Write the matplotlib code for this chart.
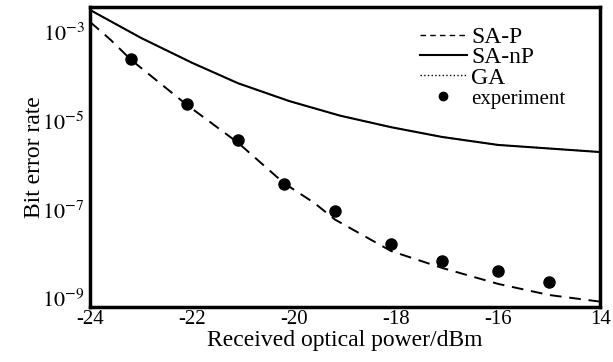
import matplotlib
matplotlib.use("Agg")
import matplotlib.pyplot as plt
from matplotlib.lines import Line2D

plt.rcParams['font.family'] = ['Liberation Serif', 'DejaVu Serif']
plt.rcParams['mathtext.fontset'] = 'stix'

# SA-P theory curve (dashed)
sap_x = [-24.0, -23.6, -23.2, -22.1, -21.1, -20.2, -19.6, -19.2, -18.1, -17.1, -16.0, -15.0, -14.0]
sap_ber = [10**-2.77, 10**-3.17, 10**-3.62, 10**-4.64, 10**-5.49, 10**-6.40, 10**-6.85,
           10**-7.22, 10**-7.93, 10**-8.31, 10**-8.67, 10**-8.92, 10**-9.07]

# SA-nP theory curve (solid)
sanp_x = [-24.0, -23.0, -22.0, -21.1, -20.1, -19.1, -18.1, -17.1, -16.0, -14.0]
sanp_ber = [10**-2.50, 10**-3.13, 10**-3.69, 10**-4.15, 10**-4.55, 10**-4.88, 10**-5.14,
            10**-5.36, 10**-5.54, 10**-5.70]

# GA curve lies on top of the SA-nP curve
ga_x = sanp_x
ga_ber = sanp_ber

# measured points
exp_x = [-23.2, -22.1, -21.1, -20.2, -19.2, -18.1, -17.1, -16.0, -15.0]
exp_ber = [10**-3.60, 10**-4.61, 10**-5.43, 10**-6.42, 10**-7.02, 10**-7.77,
           10**-8.15, 10**-8.38, 10**-8.62]

x_ticks = [-24, -22, -20, -18, -16, -14]
x_ticklabels = ['-24', '-22', '-20', '-18', '-16', '14']
y_ticks = [1e-3, 1e-5, 1e-7, 1e-9]
y_ticklabels = [r'$10^{-3}$', r'$10^{-5}$', r'$10^{-7}$', r'$10^{-9}$']

fig = plt.figure(figsize=(6.13, 3.62), dpi=100)
ax = fig.add_axes([0.147, 0.152, 0.832, 0.829])

ax.plot(sap_x, sap_ber, color='black', lw=1.4, ls=(0, (6, 4)))
ax.plot(sanp_x, sanp_ber, color='black', lw=1.5, ls='-')
ax.plot(ga_x, ga_ber, color='black', lw=1.0, ls=':')
ax.plot(exp_x, exp_ber, 'o', color='black', ms=8, ls='none')

ax.set_yscale('log')
ax.set_xlim(-24, -14)
ax.set_ylim(10**-9.19, 10**-2.43)
ax.set_xticks(x_ticks)
ax.set_xticklabels(x_ticklabels)
ax.set_yticks(y_ticks)
ax.set_yticklabels(y_ticklabels)
ax.minorticks_off()
ax.tick_params(length=0, labelsize=16)
ax.tick_params(axis='x', labelsize=15, pad=2)
ax.tick_params(axis='y', pad=4)

for s in ax.spines.values():
    s.set_linewidth(2.5)

ax.set_xlabel('Received optical power/dBm', fontsize=17, labelpad=1)
ax.set_ylabel('Bit error rate', fontsize=17, labelpad=-2)

handles = [
    Line2D([], [], color='black', lw=1.0, ls=(0, (4, 3))),
    Line2D([], [], color='black', lw=1.5, ls='-'),
    Line2D([], [], color='black', lw=1.0, ls=':'),
    Line2D([], [], color='black', marker='o', ms=6, ls='none'),
]
leg = ax.legend(handles, ['SA-P', 'SA-nP', 'GA', 'experiment'], loc='upper right',
                frameon=False, fontsize=17, handlelength=2.0, handletextpad=0.2,
                labelspacing=-0.05, borderaxespad=0.3, bbox_to_anchor=(0.965, 0.99))
leg.get_texts()[3].set_fontsize(15)

fig.savefig('out.png', dpi=100)
